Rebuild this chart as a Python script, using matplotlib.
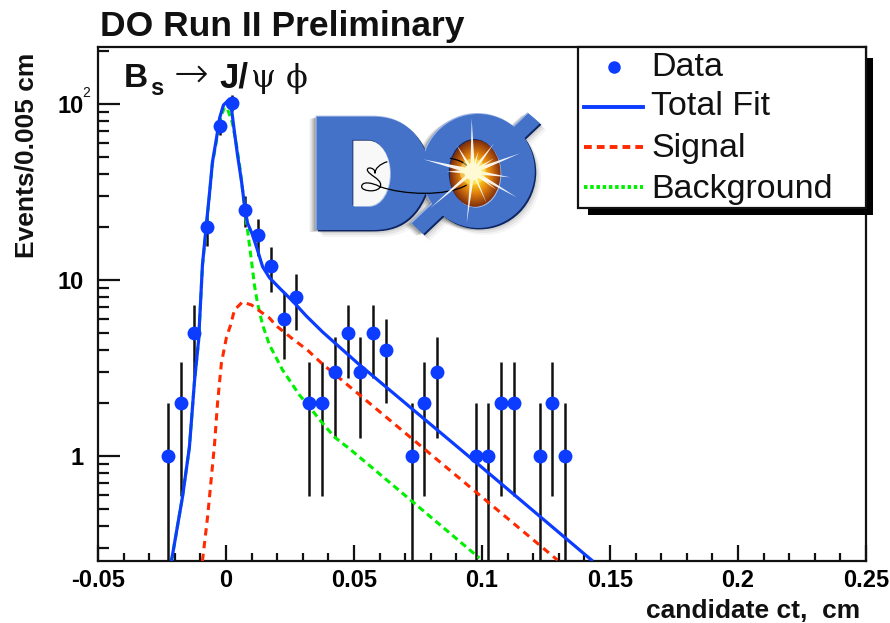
import numpy as np
import matplotlib
matplotlib.use("Agg")
import matplotlib.pyplot as plt
from matplotlib.path import Path as MPath
from matplotlib.patches import PathPatch, Rectangle, Polygon, Ellipse
from matplotlib.ticker import FixedLocator, NullFormatter

# histogram points
ct_bins = [-0.0225, -0.0175, -0.0125, -0.0075, -0.0025, 0.0025, 0.0075, 0.0125, 0.0175, 0.0225,
           0.0275, 0.0325, 0.0375, 0.0425, 0.0475, 0.0525, 0.0575, 0.0625, 0.0725, 0.0775,
           0.0825, 0.0975, 0.1025, 0.1075, 0.1125, 0.1225, 0.1275, 0.1325]
events = [1, 2, 5, 20, 75, 102, 25, 18, 12, 6,
          8, 2, 2, 3, 5, 3, 5, 4, 1, 2,
          3, 1, 1, 2, 2, 1, 2, 1]
err_sym = [1, 1.41, 2.24, 4.47, 8.66, 10.1, 5, 4.24, 3.46, 2.45,
           2.83, 1.41, 1.41, 1.73, 2.24, 1.73, 2.24, 2, 1, 1.41,
           1.73, 1, 1, 1.41, 1.41, 1, 1.41, 1]

# fit curves
total_x = [-0.0213, -0.0170, -0.0143, -0.0123, -0.0107, -0.0100, -0.0092, -0.0076, -0.0064, -0.0053,
           -0.0037, -0.0025, -0.0010, 0.0006, 0.0021, 0.0033, 0.0045, 0.0061, 0.0072, 0.0084,
           0.0104, 0.0123, 0.0143, 0.0170, 0.0209, 0.0260, 0.0314, 0.0377, 0.0514, 0.0979,
           0.1428]
total_y = [0.253, 0.585, 1.12, 2.67, 4.56, 7.21, 12.2, 21.1, 31.6, 46.8,
           64.1, 83.2, 98.7, 104, 94.9, 69.3, 51.3, 36.0, 26.7, 21.1,
           18.0, 14.8, 11.9, 10.3, 9.0, 7.6, 6.24, 5.07, 3.37, 0.913,
           0.256]
signal_x = [-0.0092, -0.0072, -0.0057, -0.0045, -0.0033, -0.0018, 0.0002, 0.0018, 0.0033, 0.0064,
            0.0100, 0.0131, 0.0170, 0.0197, 0.0256, 0.0318, 0.0373, 0.1295]
signal_y = [0.253, 0.450, 0.760, 1.155, 2.0, 3.37, 4.74, 5.55, 6.76, 7.50,
            7.21, 6.67, 6.08, 5.48, 4.68, 4.0, 3.37, 0.256]
backgr_x = [-0.0213, -0.0170, -0.0143, -0.0123, -0.0107, -0.0100, -0.0092, -0.0076, -0.0064, -0.0053,
            -0.0037, -0.0025, -0.0006, 0.0006, 0.0025, 0.0041, 0.0053, 0.0064, 0.0080, 0.0100,
            0.0111, 0.0123, 0.0143, 0.0170, 0.0221, 0.0287, 0.0326, 0.0373, 0.0424, 0.0482,
            0.0572, 0.0990]
backgr_y = [0.253, 0.585, 1.12, 2.67, 4.5, 7.1, 12, 20.7, 31, 46,
            62, 80, 96, 93.7, 78, 58.5, 45, 33.3, 21.4, 12.7,
            9.37, 7.4, 5.55, 4.27, 3.08, 2.22, 1.90, 1.56, 1.28, 1.10,
            0.855, 0.263]

x_major = [-0.05, 0, 0.05, 0.1, 0.15, 0.2, 0.25]
x_labels = ["-0.05", "0", "0.05", "0.1", "0.15", "0.2", "0.25"]
x_minor = [-0.04, -0.03, -0.02, -0.01, 0.01, 0.02, 0.03, 0.04, 0.06, 0.07, 0.08, 0.09,
           0.11, 0.12, 0.13, 0.14, 0.16, 0.17, 0.18, 0.19, 0.21, 0.22, 0.23, 0.24]
y_major = [1, 10, 100]
y_labels = ["1", "10", "10"]
y_minor = [0.3, 0.4, 0.5, 0.6, 0.7, 0.8, 0.9, 2, 3, 4, 5, 6, 7, 8, 9,
           20, 30, 40, 50, 60, 70, 80, 90, 200]

BLUE = "#0b3cff"
RED = "#ff2a00"
GREEN = "#00f000"
SANS = "Liberation Sans"

plt.rcParams["font.family"] = [SANS, "DejaVu Sans"]
plt.rcParams["text.color"] = "#111111"

W, H = 890, 623
fig = plt.figure(figsize=(W / 100, H / 100), dpi=100)
ax = fig.add_axes([98 / W, (H - 561) / H, 768 / W, 514 / H])
ax.set_yscale("log")
ax.set_xlim(-0.05, 0.25)
ax.set_ylim(0.253, 211)

ax.errorbar(ct_bins, events, yerr=err_sym, fmt="none", ecolor="#111111", elinewidth=1.8, zorder=2)
ax.plot(backgr_x, backgr_y, color=GREEN, lw=2.2, ls=(0, (2.2, 1.4)), zorder=3)
ax.plot(signal_x, signal_y, color=RED, lw=2.2, ls=(0, (2.4, 1.8)), zorder=3)
ax.plot(total_x, total_y, color=BLUE, lw=2.3, zorder=4)
ax.plot(ct_bins, events, "o", color=BLUE, ms=10, mew=0, zorder=5)

for side in ax.spines.values():
    side.set_linewidth(1.6)
    side.set_color("#111111")
ax.xaxis.set_major_locator(FixedLocator(x_major))
ax.xaxis.set_minor_locator(FixedLocator(x_minor))
ax.yaxis.set_major_locator(FixedLocator(y_major))
ax.yaxis.set_minor_locator(FixedLocator(y_minor))
ax.yaxis.set_minor_formatter(NullFormatter())
ax.set_xticklabels(x_labels, fontweight="bold", fontsize=17)
ax.set_yticklabels(y_labels, fontweight="bold", fontsize=17)
ax.tick_params(axis="x", which="major", direction="in", length=11.5, width=1.6, pad=6, color="#111111")
ax.tick_params(axis="x", which="minor", direction="in", length=5.8, width=1.6, color="#111111")
ax.tick_params(axis="y", which="major", direction="in", length=16, width=1.6, pad=10, color="#111111")
ax.tick_params(axis="y", which="minor", direction="in", length=8, width=1.6, color="#111111")

# overlay in picture pixels for texts, legend box and logo
ov = fig.add_axes([0, 0, 1, 1], zorder=10)
ov.set_xlim(0, W)
ov.set_ylim(H, 0)
ov.axis("off")
ov.patch.set_alpha(0)

ov.text(100, 36, "DO Run II Preliminary", fontsize=25.5, fontweight="bold", va="baseline")
ov.text(860, 618, "candidate ct,  cm", fontsize=19, fontweight="bold", ha="right", va="baseline")
ov.text(33, 258, "Events/0.005 cm", fontsize=19, fontweight="bold", rotation=90,
        ha="left", va="baseline", rotation_mode="anchor")
ov.text(82, 97, "2", fontsize=10, va="baseline")

# decay label
ov.text(124, 87, "B", fontsize=24, fontweight="bold", va="baseline")
ov.text(150, 95, "s", fontsize=17, fontweight="bold", va="baseline")
ov.text(174, 87, "\u2192", fontsize=30, family="DejaVu Sans", va="baseline", fontweight="light")
ov.text(219, 87, "J/", fontsize=25, fontweight="bold", va="baseline")
ov.text(251, 87, "\u03c8", fontsize=23, family="DejaVu Serif", va="baseline")
ov.text(286, 87, "\u03d5", fontsize=23, family="DejaVu Serif", va="baseline")

# legend
ov.add_patch(Rectangle((588, 58), 285, 157, fc="black", ec="none", zorder=1))
ov.add_patch(Rectangle((578, 47), 288, 161, fc="white", ec="#111111", lw=1.6, zorder=2))
ov.plot([614], [67], "o", color=BLUE, ms=9, mew=0, zorder=3)
ov.plot([584, 643], [107, 107], color=BLUE, lw=2.8, zorder=3)
ov.plot([584, 643], [147, 147], color=RED, lw=2.8, ls=(0, (2, 1.3)), zorder=3)
ov.plot([584, 643], [187, 187], color=GREEN, lw=2.8, ls=(0, (0.9, 0.7)), zorder=3)
for ty, txt in zip([76, 115, 157, 198], ["Data", "Total Fit", "Signal", "Background"]):
    ov.text(651, ty, txt, fontsize=24.5, va="baseline", zorder=3)


# logo, coordinates as read on the 3x crop
def z(pts):
    return [(290 + a / 3, 90 + b / 3) for a, b in pts]


def shape(verts, codes, dx=0, dy=0):
    return MPath([(a + dx, b + dy) for a, b in z(verts)], codes)


L, C, M, E = MPath.LINETO, MPath.CURVE4, MPath.MOVETO, MPath.CLOSEPOLY
d_verts = [(80, 80), (250, 80), (340, 80), (400, 130), (425, 245), (400, 370), (340, 420), (250, 420),
           (80, 420), (80, 80)]
d_codes = [M, L, C, C, C, C, C, C, L, E]
slash_verts = [(365, 400), (715, 70), (750, 100), (400, 432), (365, 400)]
slash_codes = [M, L, L, L, E]


def logo_layer(color, dx, dy, zo, alpha=1.0):
    ov.add_patch(PathPatch(shape(d_verts, d_codes, dx, dy), fc=color, ec="none", alpha=alpha, zorder=zo))
    ov.add_patch(PathPatch(shape(slash_verts, slash_codes, dx, dy), fc=color, ec="none", alpha=alpha, zorder=zo))
    ox, oy = z([(565, 243)])[0]
    ov.add_patch(Ellipse((ox + dx, oy + dy), 113, 114, fc=color, ec="none", alpha=alpha, zorder=zo))


for step, shade in zip([7, 5, 3], [0.12, 0.2, 0.3]):
    logo_layer("#555555", -step, step * 0.3, 3, shade)
    logo_layer("#777777", step * 0.9, step, 3, shade * 0.6)
logo_layer("#0c2460", 1.4, 1.4, 4)
logo_layer("#9db6e6", -1, -1, 4)
logo_layer("#4472c8", 0, 0, 5)

# D hole
hole_v = [(190, 152), (235, 152), (275, 152), (300, 200), (300, 250), (300, 300), (275, 348), (235, 348),
          (190, 348), (190, 152)]
hole_c = [M, L, C, C, C, C, C, C, L, E]
ov.add_patch(PathPatch(shape(hole_v, hole_c, 0.8, 0.8), fc="#a9bfe8", ec="none", zorder=6))
ov.add_patch(PathPatch(shape(hole_v, hole_c, -0.8, -0.8), fc="#12285c", ec="none", zorder=6))
ov.add_patch(PathPatch(shape(hole_v, hole_c), fc="#f8f8f8", ec="none", zorder=6))

# O hole with fireball
ocx, ocy = z([(555, 250)])[0]
ov.add_patch(Ellipse((ocx + 0.8, ocy + 0.8), 51, 67, fc="#a9bfe8", ec="none", zorder=6))
ov.add_patch(Ellipse((ocx - 0.8, ocy - 0.8), 51, 67, fc="#12285c", ec="none", zorder=6))
gx, gy = np.meshgrid(np.linspace(-1, 1, 120), np.linspace(-1, 1, 160))
fire = np.zeros((160, 120, 3))
rr = np.clip(np.hypot(gx, gy), 0, 1)
fire[..., 0] = np.interp(rr, [0, 0.25, 0.6, 1], [1.0, 1.0, 0.88, 0.5])
fire[..., 1] = np.interp(rr, [0, 0.25, 0.6, 1], [1.0, 0.85, 0.5, 0.18])
fire[..., 2] = np.interp(rr, [0, 0.25, 0.6, 1], [0.9, 0.1, 0.05, 0.05])
im = ov.imshow(fire, extent=(ocx - 25.5, ocx + 25.5, ocy + 33.5, ocy - 33.5), zorder=7, aspect="auto",
               interpolation="bilinear")
clip = Ellipse((ocx, ocy), 51, 67, transform=ov.transData)
im.set_clip_path(clip)
ov.set_xlim(0, W)
ov.set_ylim(H, 0)

# tracks
t1 = MPath(z([(530, 285), (470, 320), (340, 315), (270, 290), (240, 275), (215, 275), (215, 290),
              (215, 305), (270, 310), (272, 285), (272, 265), (235, 255), (232, 240), (232, 228),
              (258, 235), (255, 250), (255, 235), (270, 222), (292, 215)]),
           [M, C, C, C, C, C, C, C, C, C, C, C, C, C, C, C, C, C, C])
ov.add_patch(PathPatch(t1, fc="none", ec="black", lw=0.9, zorder=8))
t2 = MPath(z([(480, 205), (500, 208), (520, 215), (532, 228)]), [M, C, C, C])
ov.add_patch(PathPatch(t2, fc="none", ec="black", lw=0.9, zorder=8))

# star rays
star_c = (548, 245)
tips = [(545, 85, 7), (690, 190, 7), (660, 262, 7), (680, 322, 7), (530, 400, 6), (420, 355, 6),
        (400, 208, 8), (470, 245, 8), (500, 165, 6), (612, 160, 6), (612, 205, 5), (620, 300, 5),
        (565, 185, 5), (590, 340, 4)]
for tx, ty, wid in tips:
    ang = np.arctan2(ty - star_c[1], tx - star_c[0]) + np.pi / 2
    ex, ey = wid * np.cos(ang), wid * np.sin(ang)
    ov.add_patch(Polygon(z([(star_c[0] + ex, star_c[1] + ey), (tx, ty), (star_c[0] - ex, star_c[1] - ey)]),
                         fc="white", ec="none", alpha=0.92, zorder=9))
ov.add_patch(Ellipse(z([star_c])[0], 17, 17, fc="white", ec="none", zorder=9))
ov.add_patch(Ellipse(z([star_c])[0], 26, 26, fc="#fff6a0", ec="none", alpha=0.45, zorder=9))

fig.savefig("out.png", dpi=100)
